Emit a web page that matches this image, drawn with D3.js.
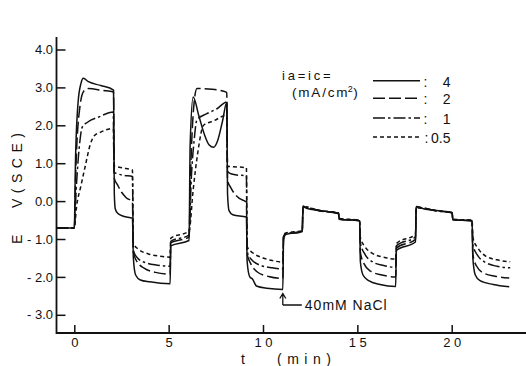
<!DOCTYPE html>
<html>
<head>
<meta charset="utf-8">
<script src="https://cdn.jsdelivr.net/npm/d3@7"></script>
<style>
  body { margin: 0; background: #fff; }
  svg { display: block; font-family: "Liberation Sans", Arial, sans-serif; }
</style>
</head>
<body>
<svg id="chart" width="526" height="366"></svg>
<script>
// tick values
const xTicks = [0, 5, 10, 15, 20];
const yTicks = [4, 3, 2, 1, 0, -1, -2, -3];

// legend: current density ia = ic (mA/cm2)
const currents = ["4", "2", "1", "0.5"];

// E vs SCE (V) over time (min), one array per current
const i4 = [
  [-0.94, -0.71], [0, -0.71], [0.06, 1.0], [0.2, 2.6], [0.35, 3.1], [0.48, 3.24], [0.75, 3.15], [1.4, 3.05], [2.08, 2.93],
  [2.12, 0.2], [2.17, -0.2], [2.3, -0.32], [2.6, -0.4], [3.08, -0.45],
  [3.13, -1.5], [3.25, -1.95], [3.5, -2.08], [4.0, -2.13], [5.08, -2.18],
  [5.11, -1.18], [6.08, -1.04],
  [6.14, 1.5], [6.3, 2.75], [6.6, 2.25], [6.9, 1.75], [7.15, 1.48], [7.38, 1.42], [7.6, 1.6], [7.85, 2.1], [8.08, 2.6],
  [8.12, 0.2], [8.2, -0.25], [8.4, -0.36], [9.12, -0.42],
  [9.16, -1.6], [9.3, -2.0], [9.45, -2.06], [9.65, -2.24], [10.2, -2.3], [11.05, -2.33],
  [11.09, -1.0], [11.2, -0.88], [12.08, -0.8],
  [12.12, -0.13], [12.3, -0.19], [13.0, -0.25], [14.0, -0.32],
  [14.04, -0.48], [15.12, -0.52],
  [15.16, -1.6], [15.3, -1.95], [15.6, -2.1], [16.2, -2.2], [17.03, -2.25],
  [17.07, -1.3], [18.08, -1.08],
  [18.12, -0.14], [18.5, -0.2], [19.2, -0.25], [20.02, -0.3],
  [20.06, -0.49], [21.08, -0.52],
  [21.12, -1.5], [21.25, -1.95], [21.5, -2.1], [22.2, -2.2], [23.05, -2.26]
];
const i2 = [
  [-0.94, -0.71], [0, -0.71], [0.08, 0.8], [0.3, 2.5], [0.5, 2.9], [0.75, 2.97], [1.5, 2.92], [2.08, 2.88],
  [2.12, 0.6], [2.3, 0.42], [2.5, 0.24], [2.75, 0.09], [3.08, -0.02],
  [3.13, -1.35], [3.3, -1.58], [3.7, -1.77], [4.3, -1.88], [5.08, -1.93],
  [5.11, -1.1], [6.08, -0.95],
  [6.15, 0.5], [6.35, 2.6], [6.5, 2.97], [7.3, 2.95], [8.08, 2.87],
  [8.12, 0.55], [8.3, 0.35], [8.5, 0.19], [8.75, 0.07], [9.12, -0.03],
  [9.16, -1.4], [9.35, -1.65], [9.7, -1.87], [10.3, -1.99], [11.05, -2.04],
  [11.09, -0.95], [11.2, -0.87], [12.08, -0.81],
  [12.12, -0.15], [13.0, -0.26], [14.0, -0.33],
  [14.04, -0.48], [15.12, -0.52],
  [15.16, -1.35], [15.35, -1.65], [15.7, -1.85], [16.3, -1.95], [17.03, -2.0],
  [17.07, -1.24], [18.08, -1.01],
  [18.12, -0.15], [19.2, -0.26], [20.02, -0.31],
  [20.06, -0.49], [21.08, -0.52],
  [21.12, -1.4], [21.3, -1.7], [21.7, -1.9], [22.3, -1.98], [23.05, -2.03]
];
const i1 = [
  [-0.94, -0.71], [0, -0.71], [0.1, 0.3], [0.3, 1.6], [0.42, 1.95], [0.7, 2.08], [1.3, 2.22], [2.06, 2.35],
  [2.11, 0.76], [2.3, 0.72], [2.6, 0.68], [3.08, 0.65],
  [3.13, -1.3], [3.35, -1.5], [3.8, -1.63], [4.4, -1.69], [5.08, -1.72],
  [5.11, -1.06], [6.08, -0.9],
  [6.2, 0.6], [6.35, 1.6], [6.5, 2.15], [7.0, 2.3], [7.6, 2.45], [8.08, 2.62],
  [8.12, 0.78], [8.3, 0.72], [8.6, 0.69], [9.12, 0.67],
  [9.16, -1.33], [9.4, -1.55], [9.9, -1.7], [10.5, -1.76], [11.05, -1.79],
  [11.09, -0.93], [11.2, -0.86], [12.08, -0.8],
  [12.12, -0.14], [13.0, -0.25], [14.0, -0.32],
  [14.04, -0.47], [15.12, -0.51],
  [15.16, -1.1], [15.4, -1.4], [15.8, -1.6], [16.4, -1.7], [17.03, -1.75],
  [17.07, -1.18], [18.08, -0.94],
  [18.12, -0.16], [19.2, -0.26], [20.02, -0.31],
  [20.06, -0.49], [21.08, -0.52],
  [21.12, -1.15], [21.4, -1.45], [21.8, -1.62], [22.4, -1.72], [23.1, -1.76]
];
const i05 = [
  [-0.94, -0.71], [0, -0.71], [0.12, -0.15], [0.35, 0.4], [0.57, 0.9], [0.85, 1.5], [1.05, 1.72], [1.4, 1.82], [2.07, 1.92],
  [2.11, 0.93], [2.5, 0.88], [3.08, 0.82],
  [3.13, -1.12], [3.4, -1.27], [3.9, -1.39], [4.5, -1.45], [5.08, -1.48],
  [5.11, -0.98], [6.08, -0.79],
  [6.3, 0.3], [6.55, 1.3], [6.85, 2.0], [7.4, 2.12], [8.08, 2.27],
  [8.12, 0.92], [9.12, 0.88],
  [9.16, -1.2], [9.5, -1.38], [10.0, -1.5], [10.5, -1.57], [11.05, -1.61],
  [11.09, -0.9], [11.2, -0.84], [12.08, -0.78],
  [12.12, -0.16], [13.0, -0.25], [14.0, -0.31],
  [14.04, -0.46], [15.12, -0.5],
  [15.16, -0.96], [15.4, -1.2], [15.8, -1.38], [16.4, -1.48], [17.03, -1.53],
  [17.07, -1.12], [18.08, -0.87],
  [18.12, -0.18], [19.2, -0.25], [20.02, -0.3],
  [20.06, -0.48], [21.08, -0.5],
  [21.12, -0.96], [21.4, -1.25], [21.8, -1.45], [22.4, -1.55], [23.1, -1.6]
];
const series = [i4, i2, i1, i05];
const nacl = { t: 11.05, label: "40mM NaCl" };

const W = 526;
const ink = "#111";
const dashes = [null, "12,4", "12,3,2.5,3", "4,3"];
const font = "Liberation Sans, Arial, sans-serif";

const x = d3.scaleLinear().domain([0, 20]).range([74.3, 451.7]);
const y = d3.scaleLinear().domain([-3, 4]).range([314.8, 49.5]);
const axisX = 56.5, axisY = 333, axisTop = 37;

const svg = d3.select("#chart");

// axis lines
svg.append("line").attr("x1", axisX).attr("x2", W).attr("y1", axisY).attr("y2", axisY)
  .attr("stroke", ink).attr("stroke-width", 2);
svg.append("line").attr("x1", axisX).attr("x2", axisX).attr("y1", axisTop).attr("y2", axisY + 1)
  .attr("stroke", ink).attr("stroke-width", 1.8);

// x ticks point up into the plot
const gx = svg.append("g").attr("transform", `translate(0,${axisY})`)
  .call(d3.axisBottom(x).tickValues(xTicks).tickSize(-8).tickPadding(5).tickFormat(d3.format("d")))
  .attr("font-family", font).attr("font-size", 13);
gx.select(".domain").remove();
gx.selectAll("line").attr("stroke", ink).attr("stroke-width", 1.5);
gx.selectAll("text").attr("fill", ink).style("letter-spacing", "3.5px").attr("dx", 1.75);

// y ticks point right
const gy = svg.append("g").attr("transform", `translate(${axisX},0)`)
  .call(d3.axisLeft(y).tickValues(yTicks).tickSize(-9).tickPadding(3.5)
    .tickFormat(d => d < 0 ? "- " + (-d).toFixed(1) : d.toFixed(1)))
  .attr("font-family", font).attr("font-size", 13);
gy.select(".domain").remove();
gy.selectAll("line").attr("stroke", ink).attr("stroke-width", 1.5);
gy.selectAll("text").attr("fill", ink);

// axis titles
svg.append("text").attr("transform", "translate(22,244) rotate(-90)")
  .attr("font-size", 14).attr("fill", ink).text("E");
svg.append("text").attr("transform", "translate(22,208) rotate(-90)")
  .attr("font-size", 14).attr("fill", ink).style("letter-spacing", "5.5px").text("V(SCE)");
svg.append("text").attr("x", 243).attr("y", 364).attr("text-anchor", "middle")
  .attr("font-size", 14).attr("fill", ink).text("t");
svg.append("text").attr("x", 277).attr("y", 364)
  .attr("font-size", 14).attr("fill", ink).style("letter-spacing", "5.5px").text("(min)");

// traces
const line = d3.line().x(d => x(d[0])).y(d => y(d[1])).curve(d3.curveMonotoneX);
svg.append("g").selectAll("path").data(series).join("path")
  .attr("d", line)
  .attr("fill", "none")
  .attr("stroke", ink)
  .attr("stroke-width", 1.5)
  .attr("stroke-linejoin", "round")
  .attr("stroke-dasharray", (d, i) => dashes[i]);

// legend
const legY = [80.7, 98.3, 118, 137];
svg.append("text").attr("x", 282).attr("y", 80).attr("font-size", 13).attr("fill", ink)
  .style("letter-spacing", "2.8px").text("ia=ic=");
const unit = svg.append("text").attr("x", 292).attr("y", 97).attr("font-size", 13.5).attr("fill", ink)
  .style("letter-spacing", "1.8px");
unit.append("tspan").text("(mA/cm");
unit.append("tspan").attr("dx", -1.5).attr("dy", -5).attr("font-size", 9).style("letter-spacing", "0px").text("2");
unit.append("tspan").attr("dx", 0.5).attr("dy", 5).text(")");

const leg = svg.append("g").selectAll("g").data(currents).join("g")
  .attr("transform", (d, i) => `translate(0,${legY[i]})`);
leg.append("line").attr("x1", 373).attr("x2", 420)
  .attr("stroke", ink).attr("stroke-width", 1.4)
  .attr("stroke-dasharray", (d, i) => dashes[i]);
leg.append("text").attr("x", (d, i) => i === 3 ? 424.5 : 423.5).attr("y", 6)
  .attr("font-size", 14).attr("fill", ink).text(":");
leg.append("text").attr("x", 450.5).attr("y", 6).attr("text-anchor", "end")
  .attr("font-size", 14).attr("fill", ink).text(d => d);

// NaCl addition marker
const ax = x(nacl.t);
svg.append("path")
  .attr("d", `M${ax},305V294M${ax - 3},298.5L${ax},293.5L${ax + 3},298.5M${ax},305H${ax + 19}`)
  .attr("fill", "none").attr("stroke", ink).attr("stroke-width", 1.3);
svg.append("text").attr("x", ax + 22).attr("y", 310).attr("font-size", 14).attr("fill", ink)
  .style("letter-spacing", "1px").text(nacl.label);
</script>
</body>
</html>
